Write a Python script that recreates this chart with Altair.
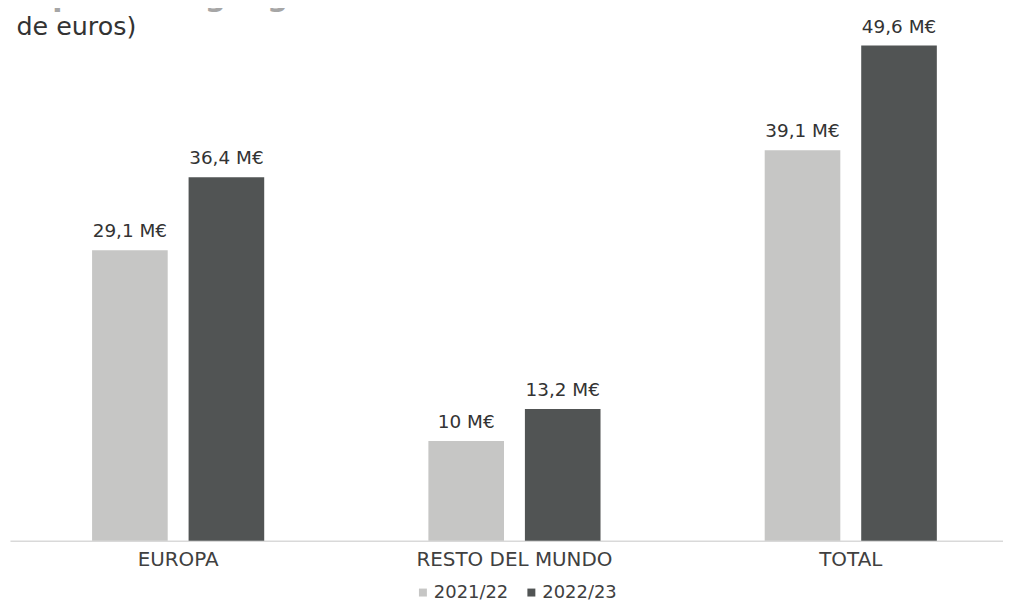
import altair as alt
import pandas as pd

# ---- data ----
regions = ["EUROPA", "RESTO DEL MUNDO", "TOTAL"]
seasons = ["2021/22", "2022/23"]
values_2122 = [29.1, 10.0, 39.1]
values_2223 = [36.4, 13.2, 49.6]
title_text = "Importe neto de la cifra de negocio por área geográfica"
subtitle_text = "(Millones de euros)"


def fmt(v):
    return f"{v:g}".replace(".", ",") + " M€"


rows = []
for r, a, b in zip(regions, values_2122, values_2223):
    rows.append({"region": r, "season": seasons[0], "value": a, "label": fmt(a)})
    rows.append({"region": r, "season": seasons[1], "value": b, "label": fmt(b)})
df = pd.DataFrame(rows)

FONT = "DejaVu Sans"
colors = ["#c6c6c5", "#515454"]

x = alt.X(
    "region:N", sort=regions, title=None,
    scale=alt.Scale(range=[2, 1016], paddingInner=0, paddingOuter=0),
    axis=alt.Axis(labelAngle=0, ticks=False, domainColor="#d9d9d9", domainWidth=1.5,
                  labelPadding=9, labelFontSize=20, labelColor="#404040", labelFont=FONT,
                  labelLimit=400),
)
xo = alt.XOffset("season:N", sort=seasons,
                 scale=alt.Scale(paddingInner=0.2165, paddingOuter=0.8505))
y = alt.Y("value:Q", scale=alt.Scale(domain=[0, 53.2]), axis=None)

bars = alt.Chart(df).mark_bar().encode(
    x=x, xOffset=xo, y=y,
    color=alt.Color(
        "season:N", sort=seasons,
        scale=alt.Scale(domain=seasons, range=colors),
        legend=alt.Legend(title=None, orient="none", legendX=408, legendY=577,
                          direction="horizontal", symbolType="square", symbolSize=64,
                          symbolStrokeWidth=0, labelFontSize=18, labelFont=FONT,
                          labelColor="#404040", labelOffset=2, columnPadding=14, padding=0),
    ),
)

labels = alt.Chart(df).mark_text(
    dy=-13, baseline="alphabetic", fontSize=18.5, color="#333333", font=FONT
).encode(x=x, xOffset=xo, y=y, text="label:N")

title = alt.Chart(pd.DataFrame({"t": [title_text]})).mark_text(
    align="right", baseline="alphabetic", fontSize=30, fontWeight="bold",
    color="#a6a6a6", font=FONT
).encode(x=alt.value(377), y=alt.value(-4), text="t:N")

subtitle = alt.Chart(pd.DataFrame({"t": [subtitle_text]})).mark_text(
    align="right", baseline="alphabetic", fontSize=25.5, color="#333333", font=FONT
).encode(x=alt.value(129), y=alt.value(26), text="t:N")

chart = alt.layer(bars, labels, title, subtitle).properties(
    width=1000, height=534,
    padding={"left": 0, "top": 0, "right": 0, "bottom": 59},
    autosize=alt.AutoSizeParams(type="none"),
    background="white",
).configure_view(stroke=None)

chart.save("out.html", embed_options={"renderer": "svg", "actions": False})
